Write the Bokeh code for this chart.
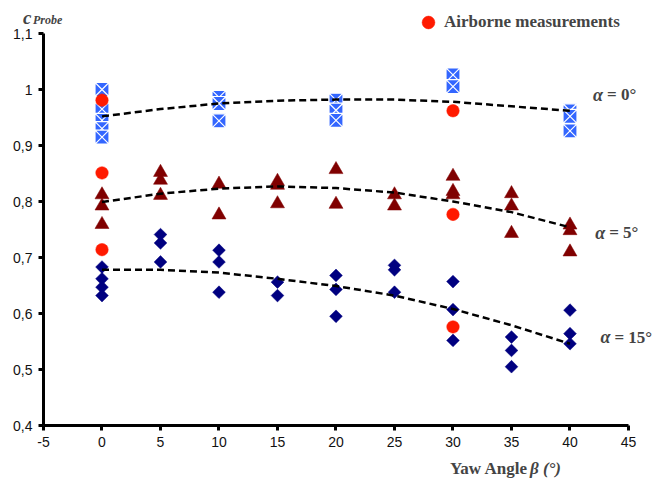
import math
from bokeh.plotting import figure
from bokeh.models import (Range1d, FixedTicker, CustomJSTickFormatter, Label,
                          Legend, LegendItem)
from bokeh.embed import file_html
from bokeh.resources import INLINE

# ---------------- data ----------------
x_ticks = [-5, 0, 5, 10, 15, 20, 25, 30, 35, 40, 45]
y_ticks = [0.4, 0.5, 0.6, 0.7, 0.8, 0.9, 1.0, 1.1]

# alpha = 0 deg (blue squares)
a0_x = [0, 0, 0, 0, 0, 10, 10, 10, 20, 20, 20, 30, 30, 40, 40, 40]
a0_y = [1.000, 0.965, 0.945, 0.930, 0.915, 0.986, 0.975, 0.944,
        0.981, 0.963, 0.945, 1.026, 1.005, 0.962, 0.952, 0.926]

# alpha = 5 deg (dark red triangles)
a5_x = [0, 0, 0, 5, 5, 5, 10, 10, 15, 15, 15, 20, 20, 25, 25,
        30, 30, 30, 35, 35, 35, 40, 40, 40]
a5_y = [0.812, 0.792, 0.759, 0.852, 0.838, 0.811, 0.831, 0.776,
        0.836, 0.829, 0.796, 0.857, 0.795, 0.812, 0.792,
        0.845, 0.818, 0.812, 0.814, 0.792, 0.743, 0.758, 0.748, 0.710]

# alpha = 15 deg (navy diamonds)
a15_x = [0, 0, 0, 0, 5, 5, 5, 10, 10, 10, 15, 15, 20, 20, 20,
         25, 25, 25, 30, 30, 30, 35, 35, 35, 40, 40, 40]
a15_y = [0.683, 0.662, 0.647, 0.632, 0.741, 0.726, 0.692, 0.713, 0.692, 0.638,
         0.656, 0.632, 0.668, 0.643, 0.595, 0.686, 0.678, 0.638,
         0.657, 0.607, 0.552, 0.558, 0.534, 0.505, 0.606, 0.564, 0.546]

# airborne measurements (red circles)
air_x = [0, 0, 0, 30, 30, 30]
air_y = [0.981, 0.851, 0.714, 0.962, 0.777, 0.576]

# trend lines
trend_x = [0, 5, 10, 15, 20, 25, 30, 35, 40]
trend_a0 = [0.952, 0.965, 0.975, 0.980, 0.982, 0.982, 0.978, 0.970, 0.962]
trend_a5 = [0.799, 0.814, 0.823, 0.827, 0.824, 0.816, 0.800, 0.781, 0.754]
trend_a15 = [0.678, 0.678, 0.673, 0.662, 0.649, 0.632, 0.608, 0.579, 0.546]

# ---------------- figure ----------------
W, H = 652, 485
p = figure(width=W, height=H, output_backend="svg", toolbar_location=None,
           x_range=Range1d(-8.675, -8.675 + W / 11.7),
           y_range=Range1d(0.4 - (H - 425) / 560.0, 1.1 + 33 / 560.0),
           min_border=0, min_border_left=0, min_border_right=0,
           min_border_top=0, min_border_bottom=0)
p.outline_line_color = None
p.xgrid.visible = False
p.ygrid.visible = False
p.background_fill_color = "white"
p.border_fill_color = "white"

for ax in (p.xaxis[0], p.yaxis[0]):
    ax.axis_line_width = 3
    ax.axis_line_color = "black"
    ax.major_tick_line_width = 3
    ax.major_tick_line_color = "black"
    ax.major_tick_out = 5
    ax.major_tick_in = 0
    ax.minor_tick_line_color = None
    ax.major_label_text_font = "Liberation Sans"
    ax.major_label_text_font_size = "14px"
    ax.major_label_text_color = "#111111"
    ax.major_label_standoff = 6

p.xaxis.ticker = FixedTicker(ticks=x_ticks)
p.yaxis.ticker = FixedTicker(ticks=y_ticks)
p.xaxis.bounds = (x_ticks[0], x_ticks[-1])
p.yaxis.bounds = (y_ticks[0], y_ticks[-1])
p.xaxis.fixed_location = y_ticks[0]
p.yaxis.fixed_location = x_ticks[0]
p.xaxis.formatter = CustomJSTickFormatter(code="return Math.round(tick).toString();")
p.yaxis.formatter = CustomJSTickFormatter(
    code="return (Math.round(tick*10)/10).toString().replace('.', ',');")

# markers
p.scatter(a0_x, a0_y, marker="square_x", size=14, fill_color="#3366FF",
          line_color="white", line_width=1.2)
p.scatter(a5_x, a5_y, marker="triangle", size=14, fill_color="#800000",
          line_color="#800000", line_width=0.5)
p.scatter(a15_x, a15_y, marker="square", angle=math.pi / 4, size=9,
          fill_color="#000080", line_color="#000080", line_width=0.5)

# trend lines
for ty in (trend_a0, trend_a5, trend_a15):
    p.line(trend_x, ty, line_color="black", line_width=2.5, line_dash="7 4")

air = p.scatter(air_x, air_y, marker="circle", size=12.5, fill_color="#FF1A00",
                line_color="#FF1A00", line_width=0.5)

legend = Legend(items=[LegendItem(label="Airborne measurements", renderers=[air])],
                location=(412, H - 38), border_line_color=None,
                background_fill_alpha=0, padding=0, margin=0, spacing=0,
                glyph_width=32, glyph_height=32, label_standoff=0,
                label_text_font="Liberation Serif", label_text_font_style="bold",
                label_text_font_size="17px", label_text_baseline="middle")
p.add_layout(legend)

# alpha labels
serif = "Liberation Serif"
alpha_labels = [("0°", 41.97, 0.991), ("5°", 42.15, 0.744), ("15°", 42.6, 0.558)]
for txt, lx, ly in alpha_labels:
    p.add_layout(Label(x=lx, y=ly, text="α", text_font=serif,
                       text_font_style="bold italic", text_font_size="18px",
                       text_baseline="middle", text_align="left"))
    p.add_layout(Label(x=lx, y=ly, x_offset=14, text="= " + txt, text_font=serif,
                       text_font_style="bold", text_font_size="17px",
                       text_baseline="middle", text_align="left"))

# y axis title  c_Probe
p.add_layout(Label(x=-6.75, y=1.129, text="c", text_font=serif,
                   text_font_style="bold italic", text_font_size="19px",
                   text_baseline="alphabetic", text_align="left"))
p.add_layout(Label(x=-6.75, y=1.129, x_offset=10, y_offset=-3, text="Probe",
                   text_font=serif, text_font_style="bold italic",
                   text_font_size="12px", text_baseline="alphabetic",
                   text_align="left"))

# x axis title
p.add_layout(Label(x=29.74, y=0.323, text="Yaw Angle", text_font=serif,
                   text_font_style="bold", text_font_size="17px",
                   text_baseline="middle", text_align="left"))
p.add_layout(Label(x=29.74, y=0.323, x_offset=80, text="β (°)", text_font=serif,
                   text_font_style="bold italic", text_font_size="17px",
                   text_baseline="middle", text_align="left"))

open("out.html", "w").write(file_html(p, INLINE))
